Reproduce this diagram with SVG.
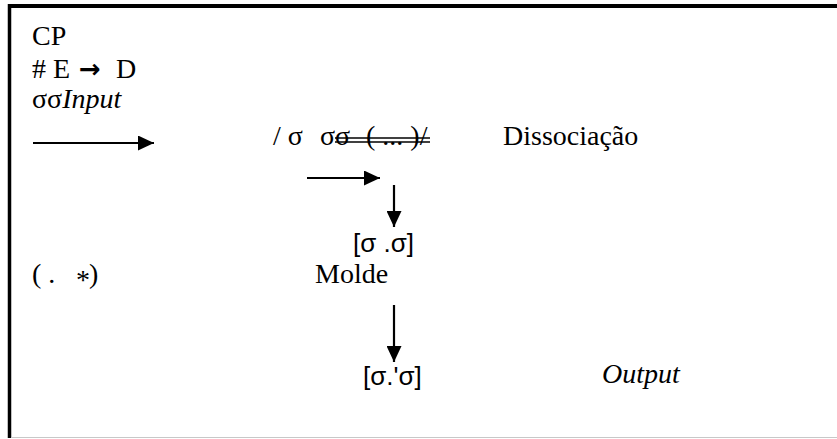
<svg xmlns="http://www.w3.org/2000/svg" width="837" height="439" viewBox="0 0 837 439">
  <style>
    .rm { font-family: "Liberation Serif", "Times New Roman", "DejaVu Serif", serif; font-size: 28px; fill: #000; }
    .ss { font-family: "Liberation Sans", Arial, sans-serif; font-size: 26px; fill: #000; }
    .it { font-style: italic; }
    .conn { stroke: #000; stroke-width: 2.2; fill: none; }
  </style>
  <defs>
    <marker id="head" viewBox="0 0 10 10" refX="10" refY="5" markerWidth="16" markerHeight="15" markerUnits="userSpaceOnUse" orient="auto" preserveAspectRatio="none">
      <path d="M0,0 L10,5 L0,10 Z" fill="#000"/>
    </marker>
  </defs>

  <rect width="837" height="439" fill="#fff"/>

  <!-- frame -->
  <g id="frame">
    <line x1="9.5" y1="4" x2="9.5" y2="438" stroke="#000" stroke-width="3.5"/>
    <line x1="8" y1="6" x2="837" y2="6" stroke="#000" stroke-width="4"/>
    <line x1="11" y1="437.5" x2="837" y2="437.5" stroke="#c8c8c8" stroke-width="1"/>
  </g>

  <!-- header block -->
  <g id="header">
    <text class="rm" x="32" y="45">CP</text>
    <text class="rm" x="32" y="78"># E</text>
    <text font-family="DejaVu Sans, sans-serif" font-weight="bold" font-size="26" x="79" y="78">→</text>
    <text class="rm" x="116" y="78">D</text>
    <text class="rm" x="32" y="108">σσ<tspan class="it">Input</tspan></text>
  </g>

  <!-- connectors -->
  <g id="connectors">
    <line class="conn" x1="33" y1="143" x2="154" y2="143" marker-end="url(#head)"/>
    <line class="conn" x1="307" y1="178" x2="380" y2="178" marker-end="url(#head)"/>
    <line class="conn" x1="394" y1="185" x2="394" y2="227" marker-end="url(#head)"/>
    <line class="conn" x1="394" y1="305" x2="394" y2="362" marker-end="url(#head)"/>
  </g>

  <!-- syllable string with struck segment -->
  <g id="syllables">
    <text class="rm" x="273" y="145">/ σ</text>
    <text class="rm" x="320" y="145">σσ</text>
    <text class="rm" x="366" y="145">( ... )/</text>
    <line x1="335" y1="138" x2="430" y2="138" stroke="#000" stroke-width="1.3"/>
    <line x1="335" y1="142" x2="430" y2="142" stroke="#000" stroke-width="1.3"/>
  </g>

  <g id="dissociacao">
    <text class="rm" x="503" y="145">Dissociação</text>
  </g>

  <g id="template1">
    <text class="ss" x="353" y="252">[σ .σ]</text>
  </g>

  <g id="pattern">
    <text class="rm" x="32" y="283">( .</text>
    <text class="rm" font-size="14" x="76" y="289">*</text>
    <text class="rm" x="89" y="283">)</text>
  </g>

  <g id="molde">
    <text class="rm" x="315" y="283">Molde</text>
  </g>

  <g id="template2">
    <text class="ss" x="363" y="385">[σ.'σ]</text>
  </g>

  <g id="output">
    <text class="rm it" x="602" y="383">Output</text>
  </g>
</svg>
